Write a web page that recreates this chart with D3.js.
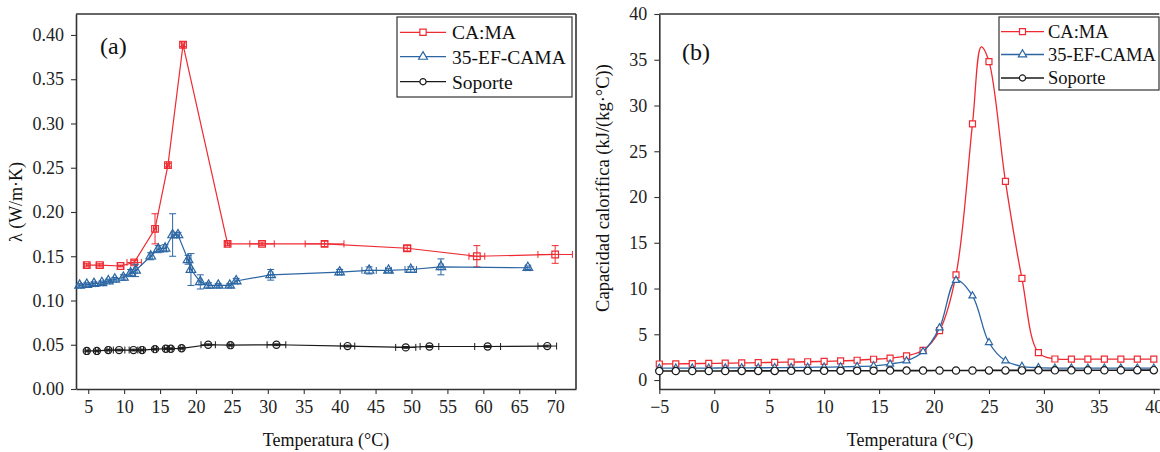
<!DOCTYPE html>
<html>
<head>
<meta charset="utf-8">
<script src="https://cdn.jsdelivr.net/npm/d3@7"></script>
<style>
  body { margin: 0; background: #fff; }
  svg { display: block; }
  svg text { font-family: "Liberation Serif", "Times New Roman", "DejaVu Serif", serif; }
</style>
</head>
<body>
<svg id="chart" width="1160" height="452"></svg>
<script>
// ---- (a) conductividad termica vs temperatura ----
const aCamaT    = [4.8, 6.6, 9.5, 11.4, 14.3, 16.1, 18.2, 24.4, 29.2, 37.9, 49.4, 59.1, 70.0];
const aCamaK    = [0.140, 0.140, 0.139, 0.143, 0.181, 0.253, 0.389, 0.164, 0.164, 0.164, 0.159, 0.150, 0.152];
const aCamaKerr = [0.002, 0.002, 0.001, 0.002, 0.017, 0.002, 0.002, 0.002, 0.002, 0.003, 0.003, 0.012, 0.010];
const aCamaTerr = [0.3, 0.5, 0.4, 1.0, 0.2, 0.2, 0.2, 0.3, 1.7, 2.7, 0.5, 1.1, 2.4];

const aEfT    = [3.8, 4.8, 5.8, 6.9, 7.8, 8.7, 9.9, 10.9, 11.6, 13.7, 14.75, 15.7, 16.75, 17.5, 18.9, 19.3, 20.6, 21.75, 23.1, 24.7, 25.6, 30.4, 40.0, 44.1, 46.8, 49.9, 54.1, 66.2];
const aEfK    = [0.117, 0.118, 0.119, 0.120, 0.122, 0.124, 0.126, 0.131, 0.134, 0.150, 0.158, 0.159, 0.174, 0.174, 0.146, 0.135, 0.121, 0.117, 0.117, 0.117, 0.122, 0.129, 0.132, 0.134, 0.134, 0.135, 0.138, 0.137];
const aEfKerr = [0.002, 0.002, 0.002, 0.002, 0.002, 0.002, 0.003, 0.004, 0.007, 0.004, 0.004, 0.004, 0.024, 0.003, 0.005, 0.018, 0.008, 0.003, 0.002, 0.002, 0.003, 0.006, 0.003, 0.004, 0.002, 0.003, 0.009, 0.002];
const aEfTerr = [0.2, 0.2, 0.2, 0.2, 0.2, 0.2, 0.2, 0.2, 0.2, 0.2, 0.2, 0.2, 0.2, 0.2, 0.2, 0.2, 0.2, 0.2, 0.2, 0.2, 0.2, 0.3, 0.3, 1.0, 0.4, 0.8, 0.3, 0.3];

const aSopT    = [4.8, 6.2, 7.8, 9.3, 11.3, 12.5, 14.3, 15.8, 16.5, 18.0, 21.7, 24.8, 31.2, 41.1, 49.2, 52.5, 60.6, 68.9];
const aSopK    = [0.043, 0.043, 0.044, 0.044, 0.044, 0.044, 0.045, 0.0455, 0.0455, 0.046, 0.050, 0.0495, 0.050, 0.0485, 0.047, 0.048, 0.048, 0.0485];
const aSopKerr = [0.001, 0.001, 0.001, 0.001, 0.001, 0.001, 0.001, 0.001, 0.001, 0.001, 0.001, 0.001, 0.001, 0.001, 0.001, 0.001, 0.001, 0.001];
const aSopTerr = [0.2, 0.2, 0.2, 0.8, 0.6, 0.2, 0.2, 0.2, 0.2, 0.2, 1.0, 0.2, 1.3, 1.0, 1.4, 1.3, 1.8, 1.3];

const aXTicks = [5, 10, 15, 20, 25, 30, 35, 40, 45, 50, 55, 60, 65, 70];
const aYTicks = [0.00, 0.05, 0.10, 0.15, 0.20, 0.25, 0.30, 0.35, 0.40];

// ---- (b) capacidad calorifica vs temperatura (marker points) ----
const bT    = [-5, -3.5, -2, -0.5, 1, 2.5, 4, 5.5, 7, 8.5, 10, 11.5, 13, 14.5, 16, 17.5, 19, 20.5, 22, 23.5, 25, 26.5, 28, 29.5, 31, 32.5, 34, 35.5, 37, 38.5, 40];
const bCama = [1.75, 1.77, 1.79, 1.82, 1.84, 1.87, 1.90, 1.93, 1.96, 2.00, 2.04, 2.09, 2.16, 2.27, 2.40, 2.65, 3.25, 5.4, 11.5, 28.0, 34.8, 21.7, 11.1, 3.0, 2.3, 2.28, 2.28, 2.28, 2.28, 2.28, 2.28];
const bEf   = [1.30, 1.30, 1.31, 1.31, 1.32, 1.33, 1.34, 1.35, 1.37, 1.39, 1.41, 1.44, 1.48, 1.55, 1.75, 2.1, 3.1, 5.7, 10.9, 9.2, 4.1, 2.1, 1.5, 1.35, 1.30, 1.30, 1.30, 1.30, 1.30, 1.30, 1.30];
const bSop  = [0.98, 0.98, 0.99, 0.99, 0.99, 1.00, 1.00, 1.00, 1.01, 1.01, 1.01, 1.02, 1.02, 1.02, 1.03, 1.03, 1.03, 1.04, 1.04, 1.04, 1.05, 1.05, 1.05, 1.06, 1.06, 1.06, 1.07, 1.07, 1.07, 1.08, 1.08];
const bCamaPeakT = [24.3];
const bCamaPeakV = [36.4];

const bXTicks = [-5, 0, 5, 10, 15, 20, 25, 30, 35, 40];
const bYTicks = [0, 5, 10, 15, 20, 25, 30, 35, 40];

const names = ["CA:MA", "35-EF-CAMA", "Soporte"];
const colors = ["#ee2a32", "#2b66a3", "#1a1a1a"];
const symbols = [d3.symbolSquare, d3.symbolTriangle, d3.symbolCircle];

const svg = d3.select("#chart");
const axisColor = "#333";

function frame(x, y, xTicks, yTicks, xMinor, yMinor, yFmt, rightBorder) {
  const [x0, x1] = x.range(), [y0, y1] = y.range();
  const gx = svg.append("g").attr("transform", `translate(0,${y0})`);
  gx.call(d3.axisBottom(x).tickValues(xMinor).tickSize(3).tickSizeOuter(0).tickFormat(""));
  gx.call(d3.axisBottom(x).tickValues(xTicks).tickSize(5).tickSizeOuter(0).tickPadding(6).tickFormat(d3.format("d")));
  const gy = svg.append("g").attr("transform", `translate(${x0},0)`);
  gy.call(d3.axisLeft(y).tickValues(yMinor).tickSize(3).tickSizeOuter(0).tickFormat(""));
  gy.call(d3.axisLeft(y).tickValues(yTicks).tickSize(5).tickSizeOuter(0).tickPadding(7).tickFormat(yFmt));
  [gx, gy].forEach(g => {
    g.attr("font-family", null).attr("font-size", null);
    g.selectAll("path.domain").attr("stroke", axisColor).attr("stroke-width", 1.6);
    g.selectAll(".tick line").attr("stroke", axisColor).attr("stroke-width", 1.1);
    g.selectAll(".tick text").attr("fill", "#222").style("font-size", "18px");
  });
  svg.append("line").attr("x1", x0).attr("x2", x1).attr("y1", y1).attr("y2", y1)
    .attr("stroke", axisColor).attr("stroke-width", 1.6);
  if (rightBorder) svg.append("line").attr("x1", x1).attr("x2", x1).attr("y1", y1).attr("y2", y0)
    .attr("stroke", axisColor).attr("stroke-width", 1.6);
}

function markers(pts, x, y, i, size, fill) {
  svg.append("g").selectAll("path").data(pts).join("path")
    .attr("transform", d => `translate(${x(d.t)},${y(d.v)})`)
    .attr("d", d3.symbol().type(symbols[i]).size(size))
    .attr("fill", fill).attr("stroke", colors[i]).attr("stroke-width", 1.2);
}

function legend(x0, y0, w, h, rowY, lineX0, lineX1, textX, fs, sizes) {
  svg.append("rect").attr("x", x0).attr("y", y0).attr("width", w).attr("height", h)
    .attr("fill", "#fff").attr("stroke", "#333").attr("stroke-width", 1.2);
  names.forEach((n, i) => {
    const ly = rowY[i];
    svg.append("line").attr("x1", lineX0).attr("x2", lineX1).attr("y1", ly).attr("y2", ly)
      .attr("stroke", colors[i]).attr("stroke-width", 1.3);
    svg.append("path").attr("transform", `translate(${(lineX0 + lineX1) / 2},${ly})`)
      .attr("d", d3.symbol().type(symbols[i]).size(sizes[i]))
      .attr("fill", "#fff").attr("stroke", colors[i]).attr("stroke-width", 1.2);
    svg.append("text").attr("x", textX).attr("y", ly).attr("dy", "0.35em")
      .style("font-size", fs + "px").attr("fill", "#111").text(n);
  });
}

// ================= panel (a) =================
const xa = d3.scaleLinear().domain([3.3, 72.9]).range([76, 576]);
const ya = d3.scaleLinear().domain([0, 0.4237]).range([389, 14]);
frame(xa, ya, aXTicks, aYTicks, d3.range(5, 72.6, 2.5), d3.range(0, 0.42, 0.025), d3.format(".2f"), true);

const aSeries = [
  { t: aCamaT, v: aCamaK, ve: aCamaKerr, te: aCamaTerr },
  { t: aEfT, v: aEfK, ve: aEfKerr, te: aEfTerr },
  { t: aSopT, v: aSopK, ve: aSopKerr, te: aSopTerr }
];
const aSizes = [44, 40, 40];
aSeries.forEach((s, i) => {
  const pts = s.t.map((t, j) => ({ t, v: s.v[j], ve: s.ve[j], te: s.te[j] }));
  svg.append("path").datum(pts)
    .attr("d", d3.line().x(d => xa(d.t)).y(d => ya(d.v)))
    .attr("fill", "none").attr("stroke", colors[i]).attr("stroke-width", 1.2);
  const eb = svg.append("g").attr("stroke", colors[i]).attr("stroke-width", 1);
  pts.forEach(d => {
    const cx = xa(d.t), cy = ya(d.v);
    const yl = ya(d.v - d.ve), yh = ya(d.v + d.ve);
    const xl = xa(d.t - d.te), xh = xa(d.t + d.te);
    eb.append("line").attr("x1", cx).attr("x2", cx).attr("y1", yl).attr("y2", yh);
    eb.append("line").attr("x1", cx - 3.5).attr("x2", cx + 3.5).attr("y1", yl).attr("y2", yl);
    eb.append("line").attr("x1", cx - 3.5).attr("x2", cx + 3.5).attr("y1", yh).attr("y2", yh);
    eb.append("line").attr("x1", xl).attr("x2", xh).attr("y1", cy).attr("y2", cy);
    eb.append("line").attr("x1", xl).attr("x2", xl).attr("y1", cy - 3.5).attr("y2", cy + 3.5);
    eb.append("line").attr("x1", xh).attr("x2", xh).attr("y1", cy - 3.5).attr("y2", cy + 3.5);
  });
  markers(pts, xa, ya, i, aSizes[i], "none");
});

legend(397, 17, 175, 80, [32.3, 56.7, 81.7], 400, 446, 452, 19.5, [40, 34, 30]);

svg.append("text").attr("x", 100).attr("y", 54).style("font-size", "24px").attr("fill", "#111").text("(a)");
svg.append("text").attr("x", 326).attr("y", 446).attr("text-anchor", "middle")
  .style("font-size", "18px").attr("fill", "#111").text("Temperatura (°C)");
svg.append("text").attr("transform", "translate(22,202) rotate(-90)").attr("text-anchor", "middle")
  .style("font-size", "18px").attr("fill", "#111").text("λ (W/m·K)");

// ================= panel (b) =================
const xb = d3.scaleLinear().domain([-5, 40.5]).range([659.3, 1159.3]);
const yb = d3.scaleLinear().domain([-0.98, 40]).range([389, 14]);
frame(xb, yb, bXTicks, bYTicks, d3.range(-5, 40.1, 2.5), d3.range(0, 40.1, 2.5), d3.format("d"), false);

const bSeries = [bCama, bEf, bSop];
const bSizes = [36, 22, 42];
const bCurves = [d3.curveCatmullRom.alpha(0.5), d3.curveCatmullRom.alpha(0.5), d3.curveLinear];
[0, 1, 2].forEach(i => {
  const pts = bT.map((t, j) => ({ t, v: bSeries[i][j] }));
  let curvePts = pts;
  if (i === 0) {
    curvePts = pts.concat(bCamaPeakT.map((t, j) => ({ t, v: bCamaPeakV[j] })))
      .sort((a, b) => a.t - b.t);
  }
  svg.append("path").datum(curvePts)
    .attr("d", d3.line().curve(bCurves[i]).x(d => xb(d.t)).y(d => yb(d.v)))
    .attr("fill", "none").attr("stroke", colors[i]).attr("stroke-width", i === 2 ? 1.6 : 1.3);
  markers(pts, xb, yb, i, bSizes[i], "#fff");
});

legend(999, 17, 160, 73, [31.7, 54.5, 78], 1001, 1044, 1048, 18.5, [36, 30, 30]);

svg.append("text").attr("x", 682).attr("y", 60).style("font-size", "24px").attr("fill", "#111").text("(b)");
svg.append("text").attr("x", 910).attr("y", 446).attr("text-anchor", "middle")
  .style("font-size", "18px").attr("fill", "#111").text("Temperatura (°C)");
svg.append("text").attr("transform", "translate(609,188) rotate(-90)").attr("text-anchor", "middle")
  .style("font-size", "18.5px").attr("fill", "#111").text("Capacidad calorífica (kJ/(kg·°C))");
</script>
</body>
</html>
